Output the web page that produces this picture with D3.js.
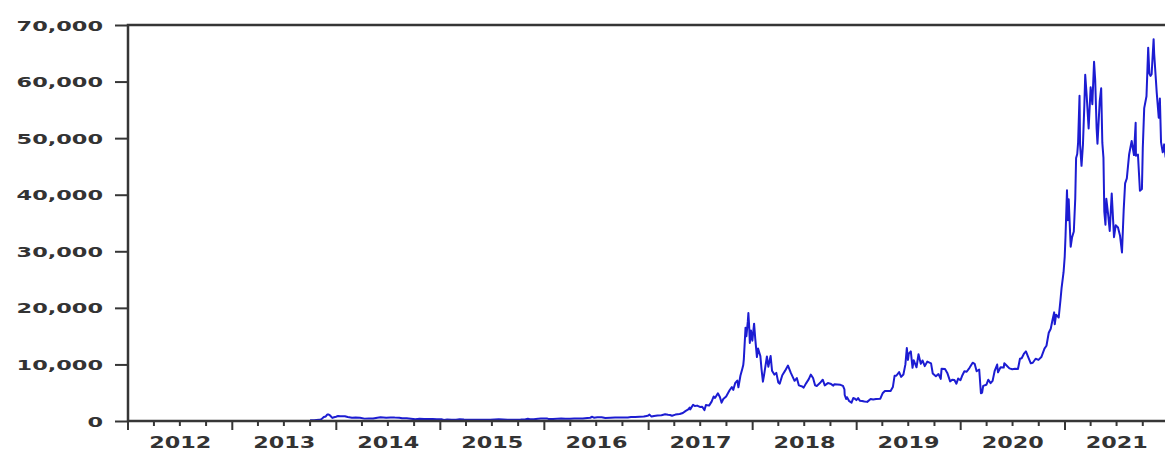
<!DOCTYPE html>
<html>
<head>
<meta charset="utf-8">
<script src="https://cdn.jsdelivr.net/npm/d3@7"></script>
<style>
  html, body { margin: 0; padding: 0; background: #fff; }
  svg { display: block; }
  .lbl { font-family: "DejaVu Sans", sans-serif; font-weight: bold; fill: #333; }
</style>
</head>
<body>
<svg id="chart" width="1165" height="452"></svg>
<script>
// Bitcoin closing price (USD), sampled closes per year as [month-day, price]
const btc2013 = [["10-01",125],["10-15",145],["11-01",205],["11-10",330],["11-18",700],["11-25",800],["11-30",1130],["12-04",1150],["12-10",980],["12-18",540],["12-24",670],["12-31",760]];
const btc2014 = [["01-07",880],["01-15",850],["01-31",830],["02-10",700],["02-25",560],["03-10",630],["03-25",580],["04-10",420],["04-25",460],["05-10",450],["05-25",590],["06-05",650],["06-25",590],["07-10",630],["07-25",600],["08-10",590],["08-20",500],["09-05",480],["09-20",410],["10-05",320],["10-20",380],["11-05",340],["11-20",355],["12-05",370],["12-20",320],["12-31",320]];
const btc2015 = [["01-07",295],["01-14",180],["01-25",255],["02-10",220],["02-25",237],["03-10",292],["03-25",247],["04-10",236],["04-25",227],["05-10",240],["05-25",238],["06-10",228],["06-25",243],["07-10",285],["07-25",290],["08-10",264],["08-25",225],["09-10",238],["09-25",235],["10-10",246],["10-25",286],["11-04",400],["11-11",310],["11-25",328],["12-10",415],["12-20",440],["12-31",430]];
const btc2016 = [["01-10",448],["01-15",374],["01-31",368],["02-15",406],["02-29",437],["03-15",415],["03-31",416],["04-15",430],["04-30",449],["05-15",456],["05-31",532],["06-10",577],["06-17",750],["06-23",580],["07-05",670],["07-20",665],["08-02",545],["08-20",580],["09-05",610],["09-20",608],["10-05",612],["10-20",630],["10-31",700],["11-15",712],["11-30",742],["12-15",780],["12-25",890],["12-31",960]];
const btc2017 = [["01-04",1130],["01-11",780],["01-20",895],["02-01",990],["02-15",1010],["02-28",1190],["03-10",1100],["03-17",1070],["03-24",935],["04-05",1135],["04-20",1235],["05-01",1420],["05-10",1755],["05-20",2040],["05-25",2370],["05-27",2050],["06-06",2860],["06-12",2640],["06-20",2720],["06-30",2480],["07-08",2510],["07-16",1930],["07-21",2830],["08-01",2720],["08-10",3430],["08-17",4330],["08-22",4080],["09-01",4890],["09-08",4230],["09-14",3240],["09-20",3890],["09-30",4340],["10-12",5430],["10-20",5990],["10-25",5500],["11-01",6750],["11-08",7140],["11-12",5950],["11-19",8000],["11-26",9300],["11-29",9890],["12-01",10900],["12-07",16500],["12-10",15000],["12-15",17600],["12-17",19100],["12-20",16500],["12-22",13800],["12-26",16000],["12-31",14200]];
const btc2018 = [["01-06",17200],["01-10",14600],["01-16",11300],["01-20",12800],["01-28",11500],["02-01",9200],["02-06",6950],["02-10",8100],["02-20",11400],["02-25",9600],["03-05",11500],["03-10",8900],["03-18",8200],["03-25",8500],["04-01",6800],["04-06",6600],["04-15",8100],["04-25",8900],["05-05",9800],["05-15",8500],["05-28",7100],["06-05",7600],["06-12",6300],["06-24",6100],["06-29",5900],["07-08",6700],["07-17",7400],["07-24",8200],["08-01",7600],["08-08",6300],["08-14",6200],["08-25",6700],["09-04",7300],["09-11",6300],["09-22",6700],["10-01",6600],["10-11",6250],["10-15",6500],["10-25",6450],["11-05",6400],["11-14",6200],["11-19",5600],["11-20",4600],["11-25",3900],["11-28",4200],["12-06",3500],["12-14",3250],["12-20",4050],["12-24",4000],["12-31",3700]];
const btc2019 = [["01-06",4050],["01-12",3600],["01-20",3550],["01-28",3450],["02-07",3380],["02-19",3900],["02-28",3800],["03-10",3900],["03-25",3950],["04-02",4900],["04-10",5300],["04-20",5300],["04-30",5300],["05-08",6000],["05-14",7980],["05-20",8000],["05-30",8650],["06-06",7800],["06-14",8230],["06-21",10000],["06-26",12900],["06-30",10800],["07-03",11900],["07-10",12300],["07-16",9400],["07-20",10750],["07-30",9500],["08-06",11800],["08-14",10100],["08-20",10700],["08-28",9700],["09-06",10500],["09-19",10200],["09-25",8400],["10-06",7900],["10-15",8300],["10-23",7450],["10-26",9250],["11-07",9200],["11-15",8500],["11-25",7000],["12-02",7300],["12-10",7250],["12-17",6600],["12-23",7500],["12-31",7200]];
const btc2020 = [["01-07",8100],["01-14",8800],["01-22",8700],["02-01",9400],["02-12",10300],["02-19",10100],["02-26",8800],["03-06",9100],["03-12",4900],["03-16",5000],["03-20",6200],["03-31",6400],["04-07",7300],["04-15",6700],["04-22",7100],["04-29",8800],["05-08",9980],["05-11",8600],["05-20",9500],["05-31",9450],["06-02",10200],["06-10",9800],["06-20",9300],["06-30",9150],["07-10",9250],["07-20",9200],["07-27",11000],["08-02",11100],["08-10",11900],["08-17",12300],["08-25",11300],["09-03",10200],["09-10",10300],["09-20",11000],["09-30",10800],["10-10",11300],["10-21",12800],["10-28",13300],["11-05",15600],["11-12",16300],["11-18",17800],["11-24",19200],["11-26",17100],["12-01",18800],["12-10",18300],["12-16",21300],["12-20",23500],["12-27",26300],["12-31",29000]];
const btc2021 = [["01-03",32800],["01-08",40800],["01-11",35500],["01-14",39200],["01-21",30800],["01-26",32500],["02-01",33500],["02-06",39300],["02-09",46500],["02-13",47200],["02-16",49200],["02-21",57500],["02-23",48800],["02-28",45100],["03-05",48800],["03-10",55900],["03-13",61200],["03-18",57600],["03-25",51700],["04-01",59000],["04-07",56000],["04-13",63500],["04-17",60300],["04-22",51700],["04-25",49000],["05-03",56600],["05-08",58800],["05-12",49200],["05-16",46500],["05-19",37000],["05-23",34700],["05-26",39300],["06-01",36700],["06-07",33600],["06-14",40200],["06-22",32500],["06-28",34600],["07-06",34200],["07-13",32800],["07-20",29800],["07-26",37300],["07-31",42000],["08-06",42900],["08-14",47100],["08-23",49500],["08-31",47000],["09-06",52700],["09-07",46900],["09-14",47100],["09-21",40700],["09-28",41000],["10-01",48200],["10-06",55300],["10-14",57400],["10-20",66000],["10-24",61400],["10-28",61000],["11-01",61300],["11-08",67500],["11-10",64900],["11-16",60300],["11-19",58000],["11-26",53600],["11-30",57000],["12-04",49300],["12-10",47500],["12-15",48900],["12-20",46700],["12-24",50800],["12-31",46300]];

const seriesByYear = [[2013, btc2013],[2014, btc2014],[2015, btc2015],[2016, btc2016],[2017, btc2017],[2018, btc2018],[2019, btc2019],[2020, btc2020],[2021, btc2021]];
const yearLabels = ["2012","2013","2014","2015","2016","2017","2018","2019","2020","2021"];
const yTicks = [0, 10000, 20000, 30000, 40000, 50000, 60000, 70000];

const parse = d3.timeParse("%Y-%m-%d");
const data = [];
seriesByYear.forEach(([yr, rows]) => rows.forEach(([md, v]) => data.push({ date: parse(yr + "-" + md), value: v })));

const svg = d3.select("#chart");
const plotLeft = 128, plotRight = 1169, plotTop = 25, plotBottom = 421;

const x = d3.scaleTime()
  .domain([new Date(2012, 0, 1), new Date(2022, 0, 1)])
  .range([plotLeft, plotRight]);
const y = d3.scaleLinear().domain([0, 70000]).range([plotBottom, plotTop]);

// price line
svg.append("path")
  .datum(data)
  .attr("fill", "none")
  .attr("stroke", "#1c1cd2")
  .attr("stroke-width", 2)
  .attr("stroke-linejoin", "round")
  .attr("d", d3.line().x(d => x(d.date)).y(d => y(d.value)));

// frame
svg.append("rect")
  .attr("x", plotLeft).attr("y", plotTop)
  .attr("width", plotRight - plotLeft).attr("height", plotBottom - plotTop)
  .attr("fill", "none").attr("stroke", "#363636").attr("stroke-width", 2.5);

// y axis
const yAxis = svg.append("g")
  .attr("transform", `translate(${plotLeft},0)`)
  .call(d3.axisLeft(y).tickValues(yTicks).tickSize(13).tickPadding(12).tickFormat(d3.format(",")));
yAxis.select(".domain").remove();
yAxis.selectAll(".tick line").attr("stroke", "#363636").attr("stroke-width", 2);
yAxis.selectAll(".tick text")
  .attr("class", "lbl")
  .attr("font-size", 14)
  .attr("dy", "0.36em")
  .each(function () {
    const w = this.getComputedTextLength();
    d3.select(this).attr("textLength", w * 1.6).attr("lengthAdjust", "spacingAndGlyphs");
  });

// x axis: year ticks and quarterly minor ticks
const quarters = d3.timeMonths(new Date(2012, 0, 1), new Date(2022, 0, 2), 3);
svg.append("g").selectAll("line")
  .data(quarters)
  .join("line")
  .attr("x1", d => x(d)).attr("x2", d => x(d))
  .attr("y1", plotBottom)
  .attr("y2", d => plotBottom + (d.getMonth() === 0 ? 9 : 5))
  .attr("stroke", "#363636").attr("stroke-width", 2);

svg.append("g").selectAll("text")
  .data(yearLabels)
  .join("text")
  .attr("class", "lbl")
  .attr("font-size", 16.5)
  .attr("text-anchor", "middle")
  .attr("x", d => x(new Date(+d, 6, 2)))
  .attr("y", 448)
  .text(d => d)
  .each(function () {
    const w = this.getComputedTextLength();
    d3.select(this).attr("textLength", w * 1.35).attr("lengthAdjust", "spacingAndGlyphs");
  });
</script>
</body>
</html>
